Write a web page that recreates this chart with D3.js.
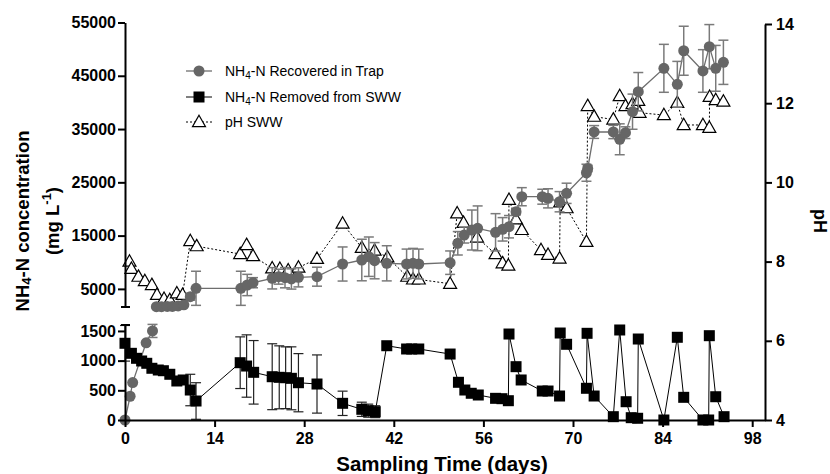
<!DOCTYPE html>
<html><head><meta charset="utf-8">
<script src="https://cdn.jsdelivr.net/npm/d3@7"></script>
<style>body{margin:0;background:#fff} text{font-family:"Liberation Sans",Arial,sans-serif}</style>
</head><body><svg id="c" width="830" height="474"></svg>
<script>
// ---- data ----
const recDays = [0,0.8,1.2,3.3,4.3, 4.9,5.7,6.6,7.4,8.3,9.2, 10.2,11.1, 18.1,19.1,20.0, 23.0,24.0,25.0,26.0,27.1, 30.0, 34.0, 37.0,38.1,39.0,40.9, 44.0,45.0,45.9, 50.8, 52.0,53.0,54.2,55.1, 57.9,59.0,60.0,61.1,62.0, 65.2,66.1,67.9,69.0, 72.1,72.3,73.3, 76.3,77.3,78.2,79.3,80.2, 84.2,86.3,87.3, 90.3,91.3,92.3,93.5];
const recVals = [0,400,630,1300,1500, 1650,1650,1700,1700,1800,2000, 3530,5110, 5110,5730,6160, 6990,7290,7100,6860,7170, 7290, 9670, 10420,11040,10290,9800, 9670,9800,9670, 9920, 13560,15110,16050,16370, 15620,16180,16670,19490,22300, 22300,22000,21360,22940, 26800,27600,34450, 34450,33080,34320,38260,42010, 46400,43400,49700, 45900,50460,46400,47530];
const recErr = [0,0,0,0,110, 0,0,0,0,0,0, 650,3200, 3200,2000,950, 2000,1400,1900,1900,1800, 1780, 3200, 3900,3700,3400,3300, 2800,2800,2800, 2200, 2200,1500,3750,4200, 3500,2200,2100,600,1700, 1400,1800,1900,1900, 1600,600,1200, 1250,2900,1100,3300,3600, 4500,4300,4600, 4000,4150,4300,4150];

const remDays = [0,1,1.8,2.6,3.4,4.2,5.2,6,7,8.1,9.1,10.2,11.1, 18,19,20.1, 23,24.1,25.1,26,27.1, 30, 34, 37,38,39.1, 40.9, 44,44.8,45.9, 50.8, 52.1,53.1,54.1,55.2, 57.9,58.9,59.9,60.0, 61.1,61.9, 65.2,66.1, 67.9,68.0, 69, 72.1,72.2, 73.3, 76.3,77.3, 78.3, 79.1,80.1,80.2, 84.2, 86.3, 87.3, 90.3,91.2,91.3, 92.3, 93.6];
const remVals = [1292,1123,1039,994,955,871,842,830,770,657,674,505,320, 965,909,803, 729,719,712,702,628, 606, 281, 180,157,140, 1251, 1196,1196,1196, 1111, 635,505,450,421, 365,359,325,1448, 898,674, 488,488, 404,1465, 1275, 534,1460, 404, 56,1516, 308, 39,29,1364, 0, 1393, 382, 0,0,1420, 392, 56];
const remErr = [300,0,0,0,0,0,0,0,0,0,0,265,308, 435,525,535, 555,530,520,530,490, 490, 205, 120,110,100, 0, 0,0,0, 0, 0,0,0,0, 0,0,0,0, 0,0, 0,0, 0,0, 0, 0,0, 0, 0,0, 0, 0,0,0, 0, 0, 0, 0,0,0, 0, 0];

const phDays = [0.7,1.0,2.1,3.1,4.2,5.0,6.1,7.0,8.1,9.0,10.2,11.2, 18.0,19.0,20.0, 23.0,24.2,25.5,27.1, 30.0, 34.0, 37.0,39.0,41.0, 44.1,45.0,45.9, 50.8, 51.9,52.9,55.0, 57.9,59.0,59.9,60.0, 61.1,62.0, 65.0,66.1,67.9,68.0, 69.0, 72.1,72.3,73.3, 76.3,77.3,78.2,79.3,80.2,80.4, 84.2,86.3,87.3, 90.3,91.3,91.35,92.3,93.5];
const phVals = [8.0,7.82,7.62,7.51,7.41,7.16,7.06,7.03,7.2,7.16,8.52,8.39, 8.19,8.42,8.14, 7.83,7.82,7.78,7.85, 8.07, 8.96, 8.35,8.28,8.11, 7.62,7.55,7.55, 7.44, 9.22,8.98,8.61, 8.19,7.96,7.9,9.56, 9.07,8.8, 8.29,8.17,8.08,9.5, 9.35, 8.5,11.93,11.66, 11.59,12.18,11.93,11.98,12.06,11.76, 11.7,12.01,11.45, 11.45,11.38,12.16,12.08,12.04];

const xTicks = [0,14,28,42,56,70,84,98];
const upperTicks = [5000,15000,25000,35000,45000,55000];
const lowerTicks = [0,500,1000,1500];
const phTicks = [4,6,8,10,12,14];
const BREAK = 1600;

// ---- scales ----
const svg = d3.select("#c");
const x = d3.scaleLinear().domain([0,100]).range([125,765]);
const yU = d3.scaleLinear().domain([BREAK,55000]).range([307,22.5]);
const yL = d3.scaleLinear().domain([0,BREAK]).range([420,325]);
const yP = d3.scaleLinear().domain([4,14]).range([420,24]);

const defs = svg.append("defs");
defs.append("clipPath").attr("id","cu").append("rect").attr("x",120).attr("y",0).attr("width",650).attr("height",307);
defs.append("clipPath").attr("id","cl").append("rect").attr("x",120).attr("y",325).attr("width",650).attr("height",95);

const rec = recDays.map((d,i)=>({d, v:recVals[i], e:recErr[i]}));
const rem = remDays.map((d,i)=>({d, v:remVals[i], e:remErr[i]}));
const ph = phDays.map((d,i)=>({d, v:phVals[i]}));

const triPath = "M0,-6.8L6.5,4.6L-6.5,4.6Z";

// ---- pH series (drawn first) ----
svg.append("path").datum(ph)
  .attr("d", d3.line().x(p=>x(p.d)).y(p=>yP(p.v)))
  .attr("fill","none").attr("stroke","#000").attr("stroke-width",1).attr("stroke-dasharray","2,2");
svg.append("g").selectAll("path").data(ph).join("path")
  .attr("d", triPath).attr("transform", p=>`translate(${x(p.d)},${yP(p.v)})`)
  .attr("fill","#fff").attr("stroke","#000").attr("stroke-width",1.2);

// ---- recovered (gray) ----
const grey = "#666666";
[["cu", yU], ["cl", yL]].forEach(([cid, ys])=>{
  const g = svg.append("g").attr("clip-path",`url(#${cid})`);
  g.append("path").datum(rec).attr("d", d3.line().x(p=>x(p.d)).y(p=>ys(p.v)))
    .attr("fill","none").attr("stroke","#6e6e6e").attr("stroke-width",1.3);
});
const recY = p => p.v >= BREAK ? yU(p.v) : yL(p.v);
const recYv = (p,v) => p.v >= BREAK ? yU(v) : yL(v);
const eg = svg.append("g").attr("stroke","#7a7a7a").attr("stroke-width",1.5);
rec.filter(p=>p.e>0).forEach(p=>{
  const cx = x(p.d), y1 = recYv(p,p.v+p.e), y2 = recYv(p, Math.max(p.v-p.e, p.v>=BREAK?BREAK:0));
  eg.append("line").attr("x1",cx).attr("x2",cx).attr("y1",y1).attr("y2",y2);
  eg.append("line").attr("x1",cx-5).attr("x2",cx+5).attr("y1",y1).attr("y2",y1);
  eg.append("line").attr("x1",cx-5).attr("x2",cx+5).attr("y1",y2).attr("y2",y2);
});
svg.append("g").selectAll("circle").data(rec).join("circle")
  .attr("cx",p=>x(p.d)).attr("cy",recY).attr("r",5.5).attr("fill",grey);

// ---- removed (black) ----
svg.append("g").attr("clip-path","url(#cl)").append("path").datum(rem)
  .attr("d", d3.line().x(p=>x(p.d)).y(p=>yL(p.v)))
  .attr("fill","none").attr("stroke","#000").attr("stroke-width",1);
const bg = svg.append("g").attr("stroke","#222").attr("stroke-width",1.2);
rem.filter(p=>p.e>0).forEach(p=>{
  const cx = x(p.d), y1 = yL(p.v+p.e), y2 = yL(Math.max(0,p.v-p.e));
  bg.append("line").attr("x1",cx).attr("x2",cx).attr("y1",y1).attr("y2",y2);
  bg.append("line").attr("x1",cx-5).attr("x2",cx+5).attr("y1",y1).attr("y2",y1);
  bg.append("line").attr("x1",cx-5).attr("x2",cx+5).attr("y1",y2).attr("y2",y2);
});
svg.append("g").selectAll("rect").data(rem).join("rect")
  .attr("x",p=>x(p.d)-5.5).attr("y",p=>yL(p.v)-5.5).attr("width",11).attr("height",11).attr("fill","#000");

// ---- axes ----
function style(g){
  g.attr("font-size",16).attr("font-weight","bold").attr("font-family","Liberation Sans, Arial, sans-serif");
  g.selectAll("path,line").attr("stroke","#000").attr("stroke-width",2);
  g.selectAll("text").attr("fill","#000");
}
svg.append("g").attr("transform","translate(125,0)")
  .call(d3.axisLeft(yU).tickValues(upperTicks).tickFormat(d3.format("d")).tickSize(7).tickSizeOuter(0).tickPadding(2)).call(style);
svg.append("g").attr("transform","translate(125,0)")
  .call(d3.axisLeft(yL).tickValues(lowerTicks).tickFormat(d3.format("d")).tickSize(7).tickSizeOuter(0).tickPadding(2)).call(style);
svg.append("g").attr("transform","translate(765,0)")
  .call(d3.axisRight(yP).tickValues(phTicks).tickSize(7).tickSizeOuter(0).tickPadding(4)).call(style);
svg.append("g").attr("transform","translate(0,420)")
  .call(d3.axisBottom(x).tickValues(xTicks).tickSize(7).tickSizeOuter(0).tickPadding(6)).call(style);
// break end marks
[yU(BREAK), yL(BREAK)].forEach(yy=>{
  svg.append("line").attr("x1",121).attr("x2",130).attr("y1",yy).attr("y2",yy).attr("stroke","#000").attr("stroke-width",2);
});

// ---- titles ----
const yt = svg.append("g").attr("font-weight","bold").attr("font-size",18.5).attr("text-anchor","middle");
const t1 = yt.append("text").attr("transform","translate(22,221) rotate(-90)").attr("dominant-baseline","central");
t1.append("tspan").text("NH");
t1.append("tspan").attr("font-size",13).attr("dy",4).text("4");
t1.append("tspan").attr("dy",-4).text("-N concentration");
const t2 = yt.append("text").attr("transform","translate(52,221) rotate(-90)").attr("dominant-baseline","central");
t2.append("tspan").text("(mg L");
t2.append("tspan").attr("font-size",13).attr("dy",-6).text("-1");
t2.append("tspan").attr("dy",6).text(")");
svg.append("text").attr("transform","translate(820,221) rotate(90)").attr("text-anchor","middle")
  .attr("dominant-baseline","central").attr("font-weight","bold").attr("font-size",18).text("pH");
svg.append("text").attr("x",442).attr("y",471).attr("text-anchor","middle")
  .attr("font-weight","bold").attr("font-size",20.5).text("Sampling Time (days)");

// ---- legend ----
const lg = svg.append("g").attr("font-size",14);
const rows = [
  {y:71, label:"-N Recovered in Trap", type:"c"},
  {y:97, label:"-N Removed from SWW", type:"s"},
  {y:122, label:"pH SWW", type:"t"}
];
rows.forEach(r=>{
  const l = lg.append("line").attr("x1",186).attr("x2",212).attr("y1",r.y).attr("y2",r.y);
  if(r.type==="c"){ l.attr("stroke","#6e6e6e").attr("stroke-width",1.3); lg.append("circle").attr("cx",199).attr("cy",r.y).attr("r",5.5).attr("fill",grey); }
  if(r.type==="s"){ l.attr("stroke","#000").attr("stroke-width",1); lg.append("rect").attr("x",193.5).attr("y",r.y-5.5).attr("width",11).attr("height",11).attr("fill","#000"); }
  if(r.type==="t"){ l.attr("stroke","#000").attr("stroke-width",1).attr("stroke-dasharray","2,2"); lg.append("path").attr("d",triPath).attr("transform",`translate(199,${r.y})`).attr("fill","#fff").attr("stroke","#000").attr("stroke-width",1.2); }
  const t = lg.append("text").attr("x",225).attr("y",r.y).attr("dominant-baseline","central");
  if(r.type==="t"){ t.text(r.label); }
  else { t.append("tspan").text("NH"); t.append("tspan").attr("font-size",10).attr("dy",4).text("4"); t.append("tspan").attr("dy",-4).text(r.label); }
});
</script></body></html>
